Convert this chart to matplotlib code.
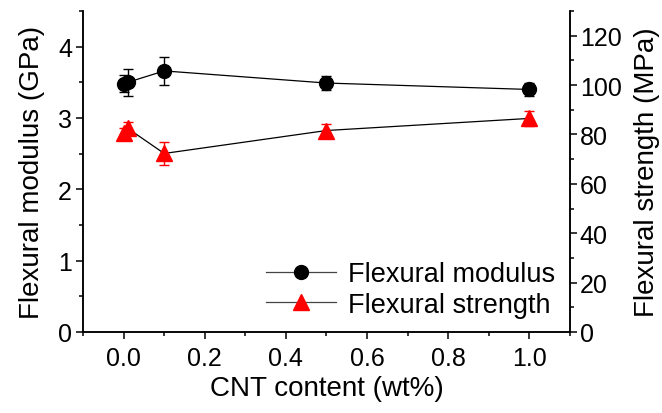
import numpy as np
import matplotlib
matplotlib.use("Agg")
import matplotlib.pyplot as plt
from matplotlib.ticker import MultipleLocator
from matplotlib.lines import Line2D

plt.rcParams['font.family'] = ['Liberation Sans', 'DejaVu Sans']

# CNT loading (wt%)
cnt = [0.0, 0.01, 0.1, 0.5, 1.0]
# flexural modulus (GPa) and error
modulus = [3.48, 3.50, 3.66, 3.49, 3.40]
modulus_err = [0.12, 0.19, 0.20, 0.10, 0.09]
# flexural strength (MPa) and error
strength = [80.5, 82.5, 72.3, 81.6, 86.5]
strength_err = [2.0, 2.5, 4.5, 2.5, 3.0]

fig = plt.figure(figsize=(6.62, 4.14), dpi=100)
ax = fig.add_axes([0.1254, 0.1957, 0.7356, 0.7753])
ax2 = ax.twinx()

ax.errorbar(cnt, modulus, yerr=modulus_err, color='black', marker='o',
            markersize=10, linewidth=0.9, elinewidth=1.0, capsize=3.5,
            capthick=1.0)
ax2.errorbar(cnt, strength, yerr=strength_err, color='black', marker='^',
             markersize=11.5, mfc='red', mec='red', ecolor='red',
             linewidth=0.9, elinewidth=1.0, capsize=3.5, capthick=1.0)

ax.set_xlim(-0.1, 1.1)
ax.set_ylim(0, 4.5)
ax2.set_ylim(0, 130)

ax.xaxis.set_major_locator(MultipleLocator(0.2))
ax.xaxis.set_minor_locator(MultipleLocator(0.1))
ax.yaxis.set_major_locator(MultipleLocator(1))
ax.yaxis.set_minor_locator(MultipleLocator(0.5))
ax2.yaxis.set_major_locator(MultipleLocator(20))
ax2.yaxis.set_minor_locator(MultipleLocator(10))

for a in (ax, ax2):
    a.spines['top'].set_visible(False)
    for s in a.spines.values():
        s.set_linewidth(1.1)
    a.tick_params(which='major', direction='out', length=5, width=1.1, labelsize=18)
    a.tick_params(which='minor', direction='out', length=3, width=1.1)
ax.tick_params(axis='y', pad=3)
ax2.tick_params(axis='y', pad=2)
ax.tick_params(axis='x', pad=5)

ax.set_xlabel('CNT content (wt%)', fontsize=20, labelpad=4)
ax.set_ylabel('Flexural modulus (GPa)', fontsize=20, labelpad=9)
ax2.set_ylabel('Flexural strength (MPa)', fontsize=20, labelpad=9)

# legend handles without the error bars
h1 = Line2D([], [], color='#444444', linewidth=0.9, marker='o',
            markersize=10, mfc='black', mec='black')
h2 = Line2D([], [], color='#444444', linewidth=0.9, marker='^',
            markersize=11, mfc='red', mec='red')
ax.legend([h1, h2], ['Flexural modulus', 'Flexural strength'],
          loc='lower left', bbox_to_anchor=(0.375, 0.045), frameon=False,
          fontsize=19.5, handlelength=2.6, handletextpad=0.45,
          labelspacing=0.15, borderaxespad=0, borderpad=0)

fig.savefig('out.png', dpi=100)
